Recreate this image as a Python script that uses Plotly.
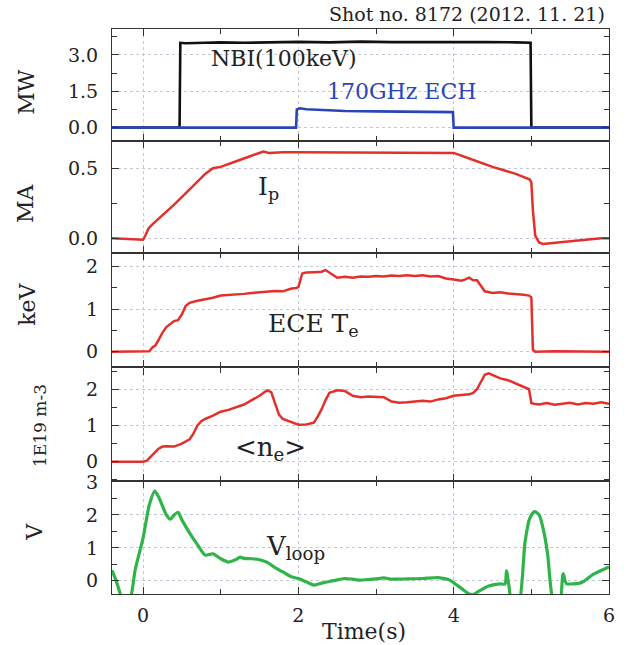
import plotly.graph_objects as go
from plotly.subplots import make_subplots

# ---------------- data ----------------
t_nbi = [-0.4, 0.47, 0.48, 0.55, 0.8, 1.0, 1.3, 1.6, 2.0, 2.4, 2.8, 3.2, 3.6, 4.0, 4.4, 4.8, 4.99, 5.0, 6.0]
nbi = [0, 0, 3.5, 3.48, 3.5, 3.52, 3.5, 3.53, 3.54, 3.52, 3.55, 3.53, 3.54, 3.52, 3.53, 3.52, 3.5, 0, 0]

t_ech = [-0.4, 1.97, 1.98, 2.02, 2.1, 2.2, 2.4, 2.6, 3.0, 3.4, 3.8, 3.99, 4.0, 6.0]
ech = [0, 0, 0.75, 0.8, 0.76, 0.74, 0.71, 0.69, 0.67, 0.66, 0.65, 0.64, 0, 0]

t_ip = [-0.4, 0.0, 0.03, 0.07, 0.12, 0.2, 0.4, 0.6, 0.8, 0.9, 1.0, 1.2, 1.4, 1.55, 1.62, 1.8, 2.0, 2.5,
        3.0, 3.5, 4.0, 4.2, 4.5, 4.8, 4.98, 5.0, 5.02, 5.05, 5.1, 5.15, 5.3, 5.6, 5.9, 6.0]
ip = [0.0, -0.01, 0.02, 0.07, 0.1, 0.14, 0.24, 0.35, 0.46, 0.5, 0.51, 0.55, 0.59, 0.62, 0.61, 0.615, 0.615, 0.615,
      0.61, 0.61, 0.61, 0.57, 0.51, 0.46, 0.42, 0.4, 0.2, 0.02, -0.03, -0.04, -0.03, -0.015, 0.0, 0.0]

t_te = [-0.4, 0.0, 0.08, 0.12, 0.16, 0.2, 0.25, 0.3, 0.35, 0.4, 0.45, 0.5, 0.55, 0.6, 0.7, 0.8, 0.9, 1.0, 1.1,
        1.2, 1.3, 1.4, 1.5, 1.6, 1.7, 1.8, 1.9, 1.97, 2.0, 2.05, 2.1, 2.2, 2.3, 2.35, 2.4, 2.45, 2.5, 2.6, 2.7,
        2.8, 2.9, 3.0, 3.1, 3.2, 3.3, 3.4, 3.5, 3.6, 3.7, 3.8, 3.9, 4.0, 4.1, 4.15, 4.2, 4.25, 4.3, 4.35, 4.4,
        4.5, 4.6, 4.7, 4.8, 4.9, 4.97, 5.0, 5.02, 5.05, 5.3, 5.6, 6.0]
te = [0.0, 0.0, 0.01, 0.1, 0.15, 0.28, 0.45, 0.58, 0.65, 0.72, 0.74, 0.88, 1.08, 1.15, 1.2, 1.23, 1.27, 1.32, 1.33,
      1.35, 1.36, 1.38, 1.40, 1.41, 1.43, 1.42, 1.48, 1.5, 1.52, 1.84, 1.86, 1.87, 1.88, 1.92, 1.86, 1.79, 1.74, 1.76, 1.74,
      1.77, 1.76, 1.78, 1.77, 1.79, 1.78, 1.8, 1.78, 1.8, 1.77, 1.78, 1.72, 1.7, 1.67, 1.7, 1.74, 1.68, 1.68, 1.55, 1.42,
      1.38, 1.4, 1.37, 1.36, 1.34, 1.32, 1.28, 0.05, 0.0, 0.01, 0.0, 0.0]

t_ne = [-0.4, 0.0, 0.05, 0.1, 0.15, 0.2, 0.25, 0.3, 0.4, 0.5, 0.6, 0.65, 0.7, 0.75, 0.8, 0.9, 1.0, 1.1, 1.2, 1.3,
        1.4, 1.5, 1.57, 1.6, 1.65, 1.7, 1.75, 1.8, 1.9, 2.0, 2.1, 2.2, 2.25, 2.3, 2.35, 2.4, 2.5, 2.6, 2.7, 2.8,
        2.9, 3.0, 3.1, 3.2, 3.3, 3.4, 3.5, 3.6, 3.7, 3.8, 3.9, 4.0, 4.1, 4.2, 4.25, 4.3, 4.35, 4.4, 4.45, 4.5,
        4.6, 4.7, 4.8, 4.9, 4.97, 5.0, 5.03, 5.1, 5.2, 5.3, 5.4, 5.5, 5.6, 5.7, 5.8, 5.9, 6.0]
ne = [0, 0, 0.03, 0.13, 0.25, 0.36, 0.42, 0.43, 0.42, 0.5, 0.62, 0.78, 1.0, 1.12, 1.18, 1.27, 1.38, 1.43, 1.5, 1.58,
      1.7, 1.82, 1.93, 1.97, 1.92, 1.6, 1.3, 1.18, 1.1, 1.02, 1.03, 1.08, 1.25, 1.45, 1.7, 1.9, 1.97, 1.95, 1.82, 1.78,
      1.8, 1.79, 1.78, 1.66, 1.63, 1.64, 1.65, 1.68, 1.66, 1.72, 1.75, 1.82, 1.84, 1.86, 1.9, 2.0, 2.2, 2.4, 2.44, 2.4,
      2.3, 2.25, 2.15, 2.05, 2.0, 1.62, 1.6, 1.58, 1.62, 1.57, 1.6, 1.63, 1.58, 1.62, 1.6, 1.64, 1.6]

t_v = [-0.4, -0.35, -0.3, -0.25, -0.17, -0.1, 0.0, 0.08, 0.15, 0.2, 0.3, 0.35, 0.4, 0.45, 0.5, 0.6, 0.7, 0.8, 0.9,
       1.0, 1.1, 1.2, 1.25, 1.3, 1.4, 1.5, 1.6, 1.7, 1.8, 1.9, 2.0, 2.1, 2.2, 2.3, 2.4, 2.5, 2.6, 2.7, 2.8, 2.9,
       3.0, 3.1, 3.2, 3.4, 3.6, 3.8, 3.9, 3.95, 4.1, 4.2, 4.25, 4.3, 4.45, 4.6, 4.66, 4.68, 4.71, 4.76, 4.83, 4.92,
       4.98, 5.04, 5.1, 5.16, 5.21, 5.28, 5.36, 5.41, 5.45, 5.55, 5.65, 5.8, 6.0]
vloop = [0.32, 0.02, -0.35, -0.8, -0.6, 0.35, 1.3, 2.3, 2.72, 2.55, 2.0, 1.87, 2.0, 2.08, 1.85, 1.45, 1.1, 0.78, 0.82,
         0.67, 0.57, 0.65, 0.72, 0.68, 0.67, 0.64, 0.56, 0.4, 0.27, 0.13, 0.07, -0.03, -0.13, -0.07, -0.02, 0.03, 0.07, 0.05, 0.02, 0.04,
         0.06, 0.09, 0.05, 0.06, 0.07, 0.1, 0.06, 0.02, -0.23, -0.4, -0.42, -0.35, -0.16, -0.09, -0.1, 0.3, -0.13, -0.8, -0.8, 1.2,
         1.9, 2.1, 2.0, 1.5, 0.8, -0.6, -0.8, 0.22, -0.08, -0.09, -0.05, 0.2, 0.42]

for a, b in [(t_nbi, nbi), (t_ech, ech), (t_ip, ip), (t_te, te), (t_ne, ne), (t_v, vloop)]:
    assert len(a) == len(b), (len(a), len(b))

y_titles = ["MW", "MA", "keV", "1E19 m-3", "V"]

# ---------------- figure ----------------
FONT = "DejaVu Serif"
AX = "#333333"
GRID = "#c3c9d6"

fig = make_subplots(rows=5, cols=1, shared_xaxes=True, vertical_spacing=0)

fig.add_trace(go.Scatter(x=t_nbi, y=nbi, mode="lines", line=dict(color="#111111", width=2.6)), row=1, col=1)
fig.add_trace(go.Scatter(x=t_ech, y=ech, mode="lines", line=dict(color="#2b45b8", width=2.6)), row=1, col=1)
fig.add_trace(go.Scatter(x=t_ip, y=ip, mode="lines", line=dict(color="#e3302b", width=2.5)), row=2, col=1)
fig.add_trace(go.Scatter(x=t_te, y=te, mode="lines", line=dict(color="#e3302b", width=2.5)), row=3, col=1)
fig.add_trace(go.Scatter(x=t_ne, y=ne, mode="lines", line=dict(color="#e3302b", width=2.5)), row=4, col=1)
fig.add_trace(go.Scatter(x=t_v, y=vloop, mode="lines", line=dict(color="#2fb449", width=3.2, shape="spline", smoothing=0.7)),
              row=5, col=1)

tickfont = dict(family=FONT, size=19, color="#222222")
common = dict(ticks="inside", ticklen=7, tickwidth=1.3, tickcolor=AX,
              showline=True, linecolor=AX, linewidth=1.1, mirror="allticks",
              showgrid=True, gridcolor=GRID, griddash="dot", gridwidth=1,
              zeroline=False, tickfont=tickfont)

fig.update_xaxes(range=[-0.4, 6], tick0=0, dtick=2,
                 minor=dict(dtick=1, ticks="inside", ticklen=5, tickwidth=1.3, tickcolor=AX, showgrid=False),
                 ticklabelstandoff=4, **common)
for r in range(1, 5):
    fig.update_xaxes(showticklabels=False, row=r, col=1)
fig.update_xaxes(showticklabels=True, row=5, col=1)

yspecs = [
    dict(range=[-0.55, 4.07], dtick=1.5, tickformat=".1f", minor_d=0.75, dom=[0.8018, 1.0]),
    dict(range=[-0.105, 0.695], dtick=0.5, tickformat=".1f", minor_d=0.25, dom=[0.6035, 0.8018]),
    dict(range=[-0.37, 2.32], dtick=1, tickformat="d", minor_d=0.5, dom=[0.4009, 0.6035]),
    dict(range=[-0.53, 2.60], dtick=1, tickformat="d", minor_d=0.5, dom=[0.2, 0.4009]),
    dict(range=[-0.40, 3.03], dtick=1, tickformat="d", minor_d=0.5, dom=[0.0, 0.2]),
]
for i, s in enumerate(yspecs, start=1):
    fig.update_yaxes(range=s["range"], tick0=0, dtick=s["dtick"], tickformat=s["tickformat"],
                     minor=dict(dtick=s["minor_d"], ticks="inside", ticklen=5, tickwidth=1.3, tickcolor=AX, showgrid=False),
                     domain=s["dom"], ticklabelstandoff=9, **common, row=i, col=1)

# y-axis titles (rotated text)
ytitle_pos = [(-0.171, 0.889, 22), (-0.175, 0.692, 22), (-0.169, 0.512, 22), (-0.145, 0.299, 17), (-0.155, 0.110, 22)]
for txt, (px, py, fs) in zip(y_titles, ytitle_pos):
    fig.add_annotation(text=txt, xref="paper", yref="paper", x=px, y=py, textangle=-90,
                       xanchor="center", yanchor="middle", showarrow=False,
                       font=dict(family=FONT, size=fs, color="#222222"))

# x title
fig.add_annotation(text="Time(s)", xref="paper", yref="paper", x=0.508, y=-0.066, xanchor="center", yanchor="middle",
                   showarrow=False, font=dict(family=FONT, size=22, color="#222222"))

# shot label
fig.add_annotation(text="Shot no. 8172 (2012. 11. 21)", xref="paper", yref="paper", x=0.996, y=1.026,
                   xanchor="right", yanchor="middle", showarrow=False,
                   font=dict(family=FONT, size=19, color="#222222"))

# in-panel labels
labels = [
    (1, "NBI(100keV)", 1.82, 2.85, 22, "#222222"),
    (1, "170GHz ECH", 3.33, 1.5, 22, "#2b45b8"),
    (2, "I<sub>p</sub>", 1.62, 0.36, 25, "#222222"),
    (3, "ECE T<sub>e</sub>", 2.2, 0.62, 25, "#222222"),
    (4, "&lt;n<sub>e</sub>&gt;", 1.64, 0.36, 26, "#222222"),
    (5, "V<sub>loop</sub>", 1.96, 1.0, 26, "#222222"),
]
for row, txt, x, y, fs, col in labels:
    fig.add_annotation(text=txt, x=x, y=y, xanchor="center", yanchor="middle", showarrow=False,
                       font=dict(family=FONT, size=fs, color=col), row=row, col=1)

fig.update_layout(width=627, height=645, showlegend=False,
                  margin=dict(l=112, r=13, t=29, b=51),
                  plot_bgcolor="white", paper_bgcolor="white")

fig.write_html("out.html")
